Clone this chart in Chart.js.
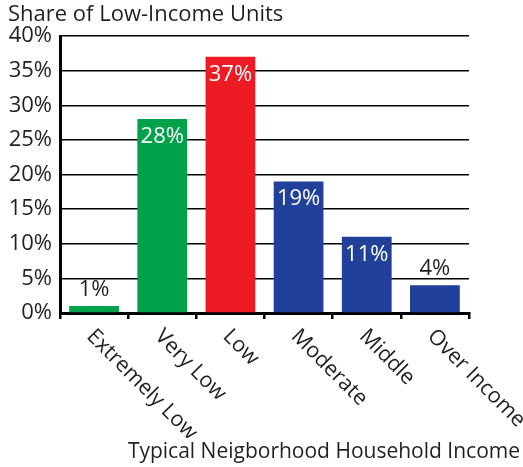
<!DOCTYPE html>
<html>
<head>
<meta charset="utf-8">
<script src="https://cdn.jsdelivr.net/npm/chart.js"></script>
<style>
  body { margin: 0; background: #fff; }
  #wrap { width: 523px; height: 467px; }
</style>
</head>
<body>
<div id="wrap"><canvas id="incomeChart" width="523" height="467"></canvas></div>
<script>
const categories = ['Extremely Low', 'Very Low', 'Low', 'Moderate', 'Middle', 'Over Income'];
const shares = [1, 28, 37, 19, 11, 4];
const barColors = ['rgb(0,161,75)', 'rgb(0,161,75)', 'rgb(237,28,36)', 'rgb(33,64,154)', 'rgb(33,64,154)', 'rgb(33,64,154)'];
const yTicks = [0, 5, 10, 15, 20, 25, 30, 35, 40];
const chartTitle = 'Share of Low-Income Units';
const xTitle = 'Typical Neigborhood Household Income';

const FONT = '"Open Sans", sans-serif';
const INK = '#231f20';

// titles, slanted category names and value labels
const extras = {
  id: 'extras',
  afterDraw(chart) {
    const ctx = chart.ctx;
    const xs = chart.scales.x;
    const area = chart.chartArea;
    ctx.save();
    ctx.fillStyle = INK;
    ctx.font = '22px ' + FONT;
    ctx.textAlign = 'left';
    ctx.textBaseline = 'alphabetic';
    ctx.fillText(chartTitle, 8, 21);

    ctx.font = '21px ' + FONT;
    ctx.textAlign = 'right';
    ctx.fillText(xTitle, 520, 458);

    ctx.font = '21.5px ' + FONT;
    categories.forEach(function (name, i) {
      const x = xs.getPixelForTick(i);
      ctx.save();
      ctx.translate(x - 4, area.bottom + 20);
      ctx.rotate(Math.PI / 4);
      ctx.textAlign = 'left';
      ctx.textBaseline = 'middle';
      ctx.fillText(name, 0, 0);
      ctx.restore();
    });

    ctx.font = '22px ' + FONT;
    const meta = chart.getDatasetMeta(0);
    meta.data.forEach(function (bar, i) {
      const v = shares[i];
      ctx.textAlign = 'center';
      ctx.textBaseline = 'alphabetic';
      if (v >= 10) {
        ctx.fillStyle = '#fff';
        ctx.fillText(v + '%', bar.x, bar.y + 24);
      } else {
        ctx.fillStyle = INK;
        ctx.fillText(v + '%', bar.x, bar.y - 10);
      }
    });
    ctx.restore();
  }
};

const ctx = document.getElementById('incomeChart').getContext('2d');
const incomeChart = new Chart(ctx, {
  type: 'bar',
  data: {
    labels: categories,
    datasets: [{
      label: chartTitle,
      data: shares,
      backgroundColor: barColors,
      borderWidth: 0,
      barPercentage: 0.73,
      categoryPercentage: 1
    }]
  },
  options: {
    responsive: false,
    animation: false,
    layout: { padding: { top: 36, left: 0, right: 54, bottom: 0 } },
    plugins: {
      legend: { display: false },
      title: { display: false },
      tooltip: { enabled: false }
    },
    scales: {
      x: {
        grid: {
          offset: true,
          drawOnChartArea: false,
          drawTicks: true,
          tickLength: 6,
          color: '#000',
          lineWidth: 2.5
        },
        border: { display: true, color: '#000', width: 3 },
        ticks: { display: false },
        afterFit(scale) { scale.height = 154; }
      },
      y: {
        min: 0,
        max: 40,
        afterBuildTicks(scale) { scale.ticks = yTicks.map(v => ({ value: v })); },
        grid: { color: '#000', lineWidth: 1.5, drawTicks: false },
        border: { display: true, color: '#000', width: 3 },
        ticks: {
          color: INK,
          padding: 8,
          font: { family: FONT, size: 22 },
          callback: v => v + '%'
        },
        afterFit(scale) { scale.width = 60; }
      }
    }
  },
  plugins: [extras]
});
</script>
</body>
</html>
